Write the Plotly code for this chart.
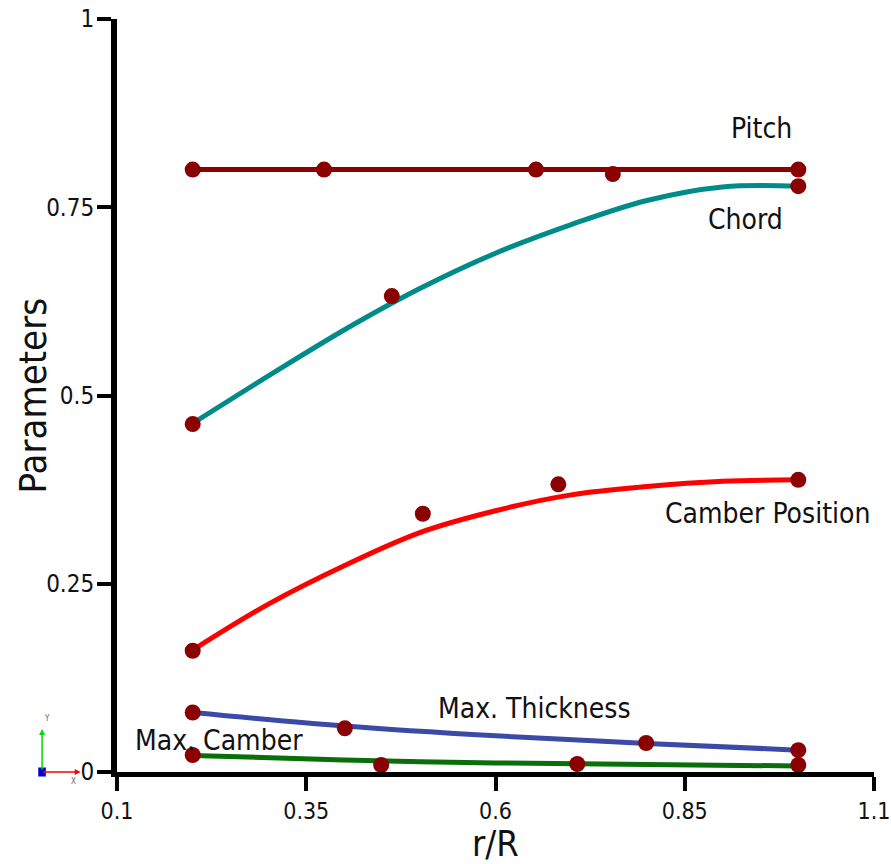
import plotly.graph_objects as go

# ---- data ----
pitch_x = [0.2, 0.3735, 0.6535, 0.755, 1.0]
pitch_y = [0.80, 0.80, 0.80, 0.794, 0.80]
pitch_line_x = [0.2, 1.0]
pitch_line_y = [0.80, 0.80]

chord_x = [0.2, 0.463, 1.0]
chord_y = [0.462, 0.632, 0.778]
chord_curve_x = [0.2, 0.3, 0.4, 0.5, 0.6, 0.7, 0.8, 0.9, 1.0]
chord_curve_y = [0.463, 0.526, 0.587, 0.642, 0.689, 0.727, 0.759, 0.777, 0.778]

campos_x = [0.2, 0.504, 0.683, 1.0]
campos_y = [0.161, 0.343, 0.382, 0.388]
campos_curve_x = [0.2, 0.3, 0.4, 0.5, 0.6, 0.7, 0.8, 0.9, 1.0]
campos_curve_y = [0.162, 0.223, 0.274, 0.318, 0.347, 0.368, 0.379, 0.386, 0.388]

thick_x = [0.2, 0.401, 0.799, 1.0]
thick_y = [0.079, 0.058, 0.0385, 0.029]
thick_curve_x = [0.2, 0.4, 0.6, 0.8, 1.0]
thick_curve_y = [0.079, 0.061, 0.048, 0.038, 0.029]

camber_x = [0.2, 0.449, 0.708, 1.0]
camber_y = [0.0226, 0.0093, 0.0106, 0.0093]
camber_curve_x = [0.2, 0.4, 0.6, 0.8, 1.0]
camber_curve_y = [0.022, 0.016, 0.012, 0.010, 0.008]

x_ticks = [0.1, 0.35, 0.6, 0.85, 1.1]
x_ticktext = ["0.1", "0.35", "0.6", "0.85", "1.1"]
y_ticks = [0, 0.25, 0.5, 0.75, 1]
y_ticktext = ["0", "0.25", "0.5", "0.75", "1"]

labels = ["Pitch", "Chord", "Camber Position", "Max. Thickness", "Max. Camber"]
label_x = [0.952, 0.93, 0.959, 0.652, 0.235]
label_y = [0.855, 0.734, 0.343, 0.085, 0.0425]

x_title = "r/R"
y_title = "Parameters"

FONT = "DejaVu Sans Condensed, DejaVu Sans, sans-serif"
MARK = "#8B0000"
LW = 5

fig = go.Figure()

curves = [
    (pitch_line_x, pitch_line_y, "#8B0000", "linear"),
    (chord_curve_x, chord_curve_y, "#008B8B", "spline"),
    (campos_curve_x, campos_curve_y, "#FF0000", "spline"),
    (thick_curve_x, thick_curve_y, "#3A4AA6", "spline"),
    (camber_curve_x, camber_curve_y, "#0A6E0A", "spline"),
]
for cx, cy, col, shp in curves:
    fig.add_trace(go.Scatter(x=cx, y=cy, mode="lines",
                             line=dict(color=col, width=LW, shape=shp),
                             showlegend=False, hoverinfo="skip"))

for mx, my in [(pitch_x, pitch_y), (chord_x, chord_y), (campos_x, campos_y),
               (thick_x, thick_y), (camber_x, camber_y)]:
    fig.add_trace(go.Scatter(x=mx, y=my, mode="markers",
                             marker=dict(color=MARK, size=16, line=dict(width=0)),
                             showlegend=False, cliponaxis=False))

annotations = []
for t, lx, ly in zip(labels, label_x, label_y):
    annotations.append(dict(x=lx, y=ly, xref="x", yref="y", text=t, showarrow=False,
                            font=dict(family=FONT, size=28, color="#111111"),
                            xanchor="center", yanchor="middle"))

# axis titles
annotations += [
    dict(x=0.5, y=-0.0943, xref="paper", yref="paper", text=x_title, showarrow=False,
         font=dict(family=FONT, size=36, color="#111111"), xanchor="center", yanchor="middle",
         borderpad=0),
    dict(x=-0.111, y=0.5, xref="paper", yref="paper", text=y_title, showarrow=False, textangle=-90,
         font=dict(family=FONT, size=38, color="#111111"), xanchor="center", yanchor="middle"),
]

# small orientation triad at lower-left
annotations += [
    dict(x=-0.099, y=0.057, xref="paper", yref="paper", ax=0, ay=42,
         showarrow=True, arrowhead=2, arrowsize=0.8, arrowwidth=1.5, arrowcolor="#00DD00", text=""),
    dict(x=-0.048, y=0.0, xref="paper", yref="paper", ax=-39, ay=0,
         showarrow=True, arrowhead=2, arrowsize=0.8, arrowwidth=1.5, arrowcolor="#FF0000", text=""),
    dict(x=-0.099, y=0.062, xref="paper", yref="paper", text="Y", showarrow=False,
         font=dict(family=FONT, size=8, color="#666666"), yanchor="bottom"),
    dict(x=-0.058, y=-0.004, xref="paper", yref="paper", text="X", showarrow=False,
         font=dict(family=FONT, size=8, color="#666666"), xanchor="center", yanchor="top"),
]

fig.update_layout(
    width=891, height=864,
    margin=dict(l=117, r=17, t=19, b=92, autoexpand=False),
    paper_bgcolor="white", plot_bgcolor="white",
    font=dict(family=FONT, color="#111111"),
    annotations=annotations,
    shapes=[dict(type="rect", xref="paper", yref="paper", x0=-0.104, x1=-0.094, y0=-0.006, y1=0.006,
                 fillcolor="#0000CC", line=dict(width=0))],
    xaxis=dict(range=[0.1, 1.1], tickvals=x_ticks, ticktext=x_ticktext, automargin=False,
               showgrid=False, zeroline=False, showline=True, linewidth=5, linecolor="black",
               ticks="outside", ticklen=14, tickwidth=4, tickcolor="black",
               ticklabeloverflow="allow",
               tickfont=dict(family=FONT, size=23, color="#111111")),
    yaxis=dict(range=[0, 1], tickvals=y_ticks, ticktext=y_ticktext, automargin=False,
               showgrid=False, zeroline=False, showline=True, linewidth=6, linecolor="black",
               ticks="outside", ticklen=14, tickwidth=4, tickcolor="black",
               ticklabelstandoff=-2,
               tickfont=dict(family=FONT, size=24, color="#111111")),
)

fig.write_html("out.html")
